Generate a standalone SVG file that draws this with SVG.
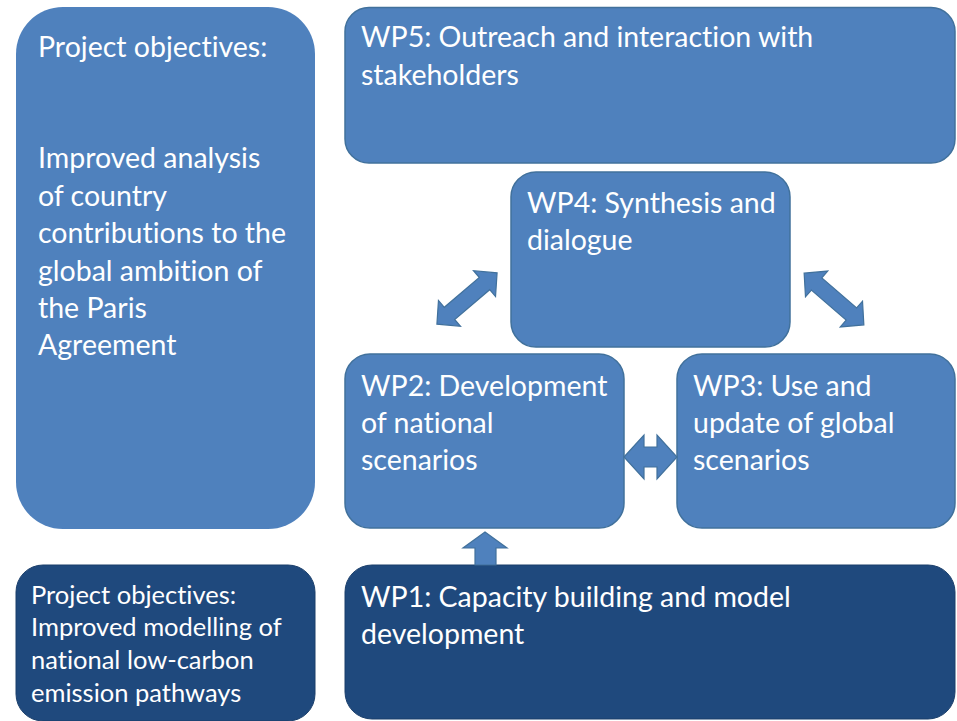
<svg xmlns="http://www.w3.org/2000/svg" width="957" height="721" viewBox="0 0 957 721">
  <style>
    .box { fill: #4F81BD; stroke: #41719C; stroke-width: 1.5; }
    .plain { fill: #4F81BD; }
    .dark { fill: #1F497D; stroke: #1B3F6B; stroke-width: 1; }
    .arrow { fill: #4F81BD; stroke: #41719C; stroke-width: 1.2; stroke-linejoin: miter; }
    text { font-family: Lato, "Open Sans", "Liberation Sans", sans-serif; fill: #FFFFFF; font-size: 28.5px; font-variant-ligatures: none; }
    .small { font-size: 25.5px; }
  </style>
  <defs>
    <!-- double-headed block arrow, centred on the origin, pointing along x -->
    <path id="dbl" d="M -39.5,0 L -23,-17 L -23,-8 L 23,-8 L 23,-17 L 39.5,0 L 23,17 L 23,8 L -23,8 L -23,17 Z"/>
  </defs>
  <rect width="957" height="721" fill="#FFFFFF"/>

  <g id="objectives-analysis">
    <rect class="plain" x="16" y="7" width="299" height="522" rx="47" ry="47"/>
    <text x="38" y="57">Project objectives:</text>
    <text x="38" y="168">Improved analysis</text>
    <text x="38" y="206">of country</text>
    <text x="38" y="243">contributions to the</text>
    <text x="38" y="281">global ambition of</text>
    <text x="38" y="318">the Paris</text>
    <text x="38" y="355">Agreement</text>
  </g>

  <g id="objectives-modelling">
    <rect class="dark" x="16" y="565" width="299" height="156" rx="27" ry="27"/>
    <text class="small" x="31" y="604">Project objectives:</text>
    <text class="small" x="31" y="636">Improved modelling of</text>
    <text class="small" x="31" y="669">national low-carbon</text>
    <text class="small" x="31" y="702">emission pathways</text>
  </g>

  <g id="wp5">
    <rect class="box" x="345" y="7.5" width="610" height="155.5" rx="24" ry="24"/>
    <text x="361" y="47">WP5: Outreach and interaction with</text>
    <text x="361" y="85">stakeholders</text>
  </g>

  <g id="wp4">
    <rect class="box" x="511" y="172" width="279" height="175" rx="25" ry="25"/>
    <text x="527" y="213">WP4: Synthesis and</text>
    <text x="527" y="250">dialogue</text>
  </g>

  <g id="wp2">
    <rect class="box" x="345" y="354" width="279" height="174" rx="25" ry="25"/>
    <text x="361" y="396">WP2: Development</text>
    <text x="361" y="433">of national</text>
    <text x="361" y="470">scenarios</text>
  </g>

  <g id="wp3">
    <rect class="box" x="677" y="354" width="278" height="174" rx="25" ry="25"/>
    <text x="693" y="396">WP3: Use and</text>
    <text x="693" y="433">update of global</text>
    <text x="693" y="470">scenarios</text>
  </g>

  <g id="wp1">
    <rect class="dark" x="345" y="565" width="610" height="154" rx="27" ry="27"/>
    <text x="361" y="607">WP1: Capacity building and model</text>
    <text x="361" y="644">development</text>
  </g>

  <g id="connectors">
    <!-- WP2 <-> WP4 -->
    <use href="#dbl" class="arrow" transform="translate(467,298.5) rotate(-40.4)"/>
    <!-- WP4 <-> WP3 -->
    <use href="#dbl" class="arrow" transform="translate(834,299) rotate(40.9)"/>
    <!-- WP2 <-> WP3 -->
    <path class="arrow" d="M 624,457 L 644,435 L 644,447 L 657,447 L 657,435 L 677,457 L 657,479 L 657,467 L 644,467 L 644,479 Z"/>
    <!-- WP1 -> WP2 -->
    <path class="arrow" d="M 485,532 L 507,548 L 496,548 L 496,565 L 475,565 L 475,548 L 463,548 Z"/>
  </g>
</svg>
